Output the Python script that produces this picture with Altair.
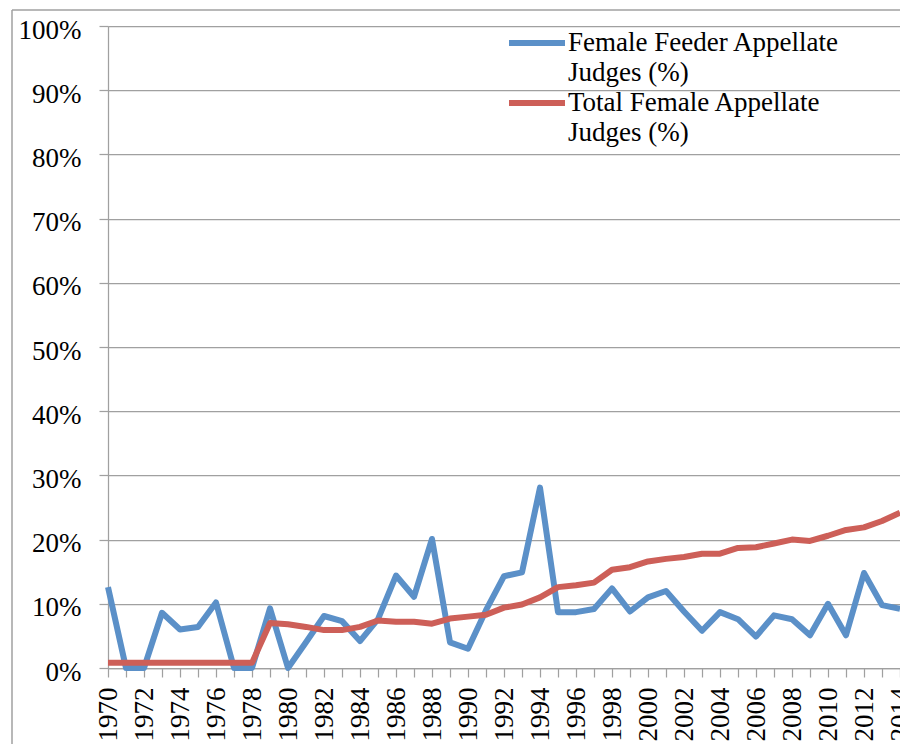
import altair as alt
import pandas as pd

years = list(range(1970, 2015))
feeder = [12.6, 0, 0, 8.6, 6.0, 6.4, 10.2, 0, 0, 9.3, 0, 4.0, 8.1, 7.3, 4.2,
          7.6, 14.4, 11.1, 20.1, 4.0, 3.0, 9.0, 14.3, 14.9, 28.1, 8.7, 8.7,
          9.2, 12.4, 8.8, 11.0, 12.0, 8.8, 5.8, 8.7, 7.6, 4.9, 8.2, 7.6, 5.1,
          10.0, 5.1, 14.8, 9.8, 9.2]
total = [0.8, 0.8, 0.8, 0.8, 0.8, 0.8, 0.8, 0.8, 0.8,
         7.0, 6.8, 6.4, 5.9, 5.9, 6.4, 7.4, 7.2, 7.2, 6.9, 7.7, 8.0, 8.3,
         9.4, 9.9, 11.0, 12.6, 12.9, 13.3, 15.3, 15.7, 16.6, 17.0, 17.3,
         17.8, 17.8, 18.7, 18.8, 19.4, 20.0, 19.8, 20.6, 21.5, 21.9, 22.9, 24.2]
series_names = ["Female Feeder Appellate Judges (%)", "Total Female Appellate Judges (%)"]
legend_lines = [["Female Feeder Appellate", "Judges (%)"], ["Total Female Appellate", "Judges (%)"]]
colors = ["#5B90C8", "#CD5F58"]
y_ticks = list(range(0, 101, 10))

GRAY = "#a0a0a0"
FONT = "Liberation Serif"

x_enc = alt.X("year:Q",
              scale=alt.Scale(domain=[1970, 2014], nice=False, zero=False),
              axis=alt.Axis(title=None, values=years,
                            labelExpr="datum.value % 2 == 0 ? '' + datum.value : ''",
                            labelAngle=270, labelFont=FONT, labelFontSize=27,
                            labelColor="black", labelPadding=10, tickSize=9,
                            tickColor=GRAY, domainColor=GRAY, tickWidth=1.25,
                            domainWidth=1.25, grid=False, labelOverlap=False,
                            labelFlush=False, labelBound=False))
y_enc = alt.Y("pct:Q",
              scale=alt.Scale(domain=[0, 100], nice=False),
              axis=alt.Axis(title=None, values=y_ticks,
                            labelExpr="datum.value + '%'",
                            labelFont=FONT, labelFontSize=27, labelColor="black",
                            labelPadding=18, labelOffset=4, tickSize=9,
                            tickColor=GRAY, domainColor=GRAY, gridColor=GRAY,
                            gridWidth=1.25, tickWidth=1.25, domainWidth=1.25))


def series_layer(i, values, legend_y):
    df = pd.DataFrame({"year": years, "pct": values,
                       "series": [series_names[i]] * len(years)})
    lines = legend_lines[i]
    return alt.Chart(df).mark_line(strokeWidth=6, strokeJoin="round").encode(
        x=x_enc, y=y_enc,
        color=alt.Color("series:N",
                        scale=alt.Scale(domain=[series_names[i]], range=[colors[i]]),
                        legend=alt.Legend(title=None, orient="none", legendX=398,
                                          legendY=legend_y, symbolType="stroke",
                                          symbolSize=3136, symbolStrokeWidth=6,
                                          labelFont=FONT, labelFontSize=27,
                                          labelBaseline="middle",
                                          labelLimit=500, labelOffset=0,
                                          labelColor="black", padding=0,
                                          labelExpr=f"['{lines[0]}', '{lines[1]}']")),
    )


frame_df = pd.DataFrame({"k": [0]})
frame_left = alt.Chart(frame_df).mark_rule(color=GRAY, strokeWidth=1.5).encode(
    x=alt.value(-96), y=alt.value(-16), y2=alt.value(718))
frame_top = alt.Chart(frame_df).mark_rule(color=GRAY, strokeWidth=1.5).encode(
    x=alt.value(-96), x2=alt.value(800), y=alt.value(-16))

chart = alt.layer(
    frame_left, frame_top,
    series_layer(0, feeder, -14),
    series_layer(1, total, 46),
).resolve_scale(color="independent").resolve_legend(color="independent").properties(
    width=792, height=642,
    padding={"left": 100, "top": 18, "right": 0, "bottom": 76},
    autosize=alt.AutoSizeParams(type="none"),
    background="white",
).configure_view(stroke=None).configure(style={"guide-label": {"lineHeight": 30}})

chart.save("out.html", embed_options={"renderer": "svg", "actions": False})
